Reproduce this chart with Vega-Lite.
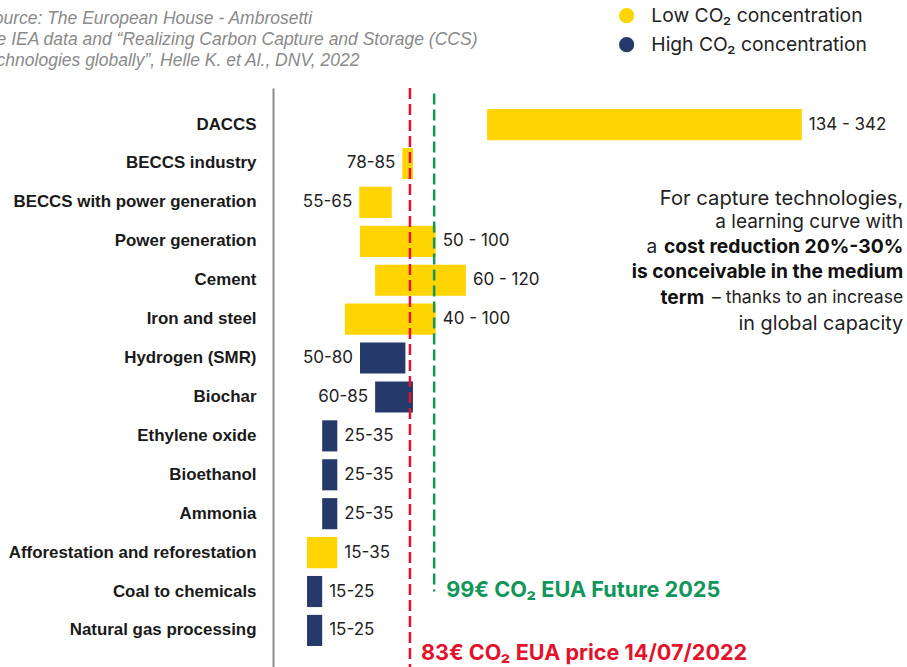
{
  "$schema": "https://vega.github.io/schema/vega-lite/v6.json",
  "autosize": "none",
  "width": 634,
  "height": 579,
  "padding": {"left": 273, "top": 88, "right": 0, "bottom": 0},
  "background": "white",
  "config": {
    "view": {"stroke": null},
    "font": "Inter",
    "text": {"font": "Inter"}
  },
  "title": {
    "text": [
      "Source: The European House - Ambrosetti",
      "the IEA data and “Realizing Carbon Capture and Storage (CCS)",
      "technologies globally”, Helle K. et Al., DNV, 2022"
    ],
    "anchor": "start",
    "orient": "top",
    "frame": "group",
    "font": "Liberation Sans",
    "fontStyle": "italic",
    "fontWeight": "normal",
    "fontSize": 17.5,
    "lineHeight": 21.3,
    "color": "#8a8a8a",
    "dx": -291,
    "dy": 84,
    "offset": 20
  },
  "data": {
    "values": [
      {"tech": "DACCS", "low": 134, "high": 342, "concentration": "Low CO₂ concentration", "label": "134 - 342"},
      {"tech": "BECCS industry", "low": 78, "high": 85, "concentration": "Low CO₂ concentration", "label": "78-85"},
      {"tech": "BECCS with power generation", "low": 49.5, "high": 71, "concentration": "Low CO₂ concentration", "label": "55-65"},
      {"tech": "Power generation", "low": 50, "high": 100, "concentration": "Low CO₂ concentration", "label": "50 - 100"},
      {"tech": "Cement", "low": 60, "high": 120, "concentration": "Low CO₂ concentration", "label": "60 - 120"},
      {"tech": "Iron and steel", "low": 40, "high": 100, "concentration": "Low CO₂ concentration", "label": "40 - 100"},
      {"tech": "Hydrogen (SMR)", "low": 50, "high": 80, "concentration": "High CO₂ concentration", "label": "50-80"},
      {"tech": "Biochar", "low": 60, "high": 85, "concentration": "High CO₂ concentration", "label": "60-85"},
      {"tech": "Ethylene oxide", "low": 25, "high": 35, "concentration": "High CO₂ concentration", "label": "25-35"},
      {"tech": "Bioethanol", "low": 25, "high": 35, "concentration": "High CO₂ concentration", "label": "25-35"},
      {"tech": "Ammonia", "low": 25, "high": 35, "concentration": "High CO₂ concentration", "label": "25-35"},
      {"tech": "Afforestation and reforestation", "low": 15, "high": 35, "concentration": "Low CO₂ concentration", "label": "15-35"},
      {"tech": "Coal to chemicals", "low": 15, "high": 25, "concentration": "High CO₂ concentration", "label": "15-25"},
      {"tech": "Natural gas processing", "low": 15, "high": 25, "concentration": "High CO₂ concentration", "label": "15-25"}
    ]
  },
  "encoding": {
    "y": {
      "field": "tech",
      "type": "nominal",
      "sort": null,
      "scale": {"paddingInner": 0.2, "paddingOuter": 0.54},
      "axis": {
        "title": null,
        "ticks": false,
        "grid": false,
        "domain": true,
        "domainColor": "#8c8c8c",
        "domainWidth": 2,
        "labelFont": "Liberation Sans",
        "labelFontWeight": "bold",
        "labelFontSize": 16.9,
        "labelColor": "#1a1a1a",
        "labelPadding": 17,
        "labelLimit": 400
      }
    }
  },
  "layer": [
    {
      "mark": {"type": "bar"},
      "encoding": {
        "x": {"field": "low", "type": "quantitative", "scale": {"domain": [-7.5, 411.5], "nice": false, "zero": false}, "axis": null},
        "x2": {"field": "high"},
        "color": {
          "field": "concentration",
          "type": "nominal",
          "scale": {"domain": ["Low CO₂ concentration", "High CO₂ concentration"], "range": ["#FFD400", "#253A6A"]},
          "legend": {
            "title": null,
            "orient": "none",
            "legendX": 344,
            "legendY": -82,
            "padding": 0,
            "symbolType": "circle",
            "symbolSize": 230,
            "symbolStrokeWidth": 0,
            "labelFont": "Inter",
            "labelFontSize": 19.3,
            "labelColor": "#222222",
            "labelOffset": 15,
            "rowPadding": 9,
            "labelLimit": 400
          }
        }
      }
    },
    {
      "transform": [{"filter": "indexof(['BECCS industry','BECCS with power generation','Hydrogen (SMR)','Biochar'], datum.tech) < 0"}],
      "mark": {"type": "text", "align": "left", "baseline": "middle", "dx": 7, "fontSize": 17, "color": "#222222", "font": "Inter"},
      "encoding": {
        "x": {"field": "high", "type": "quantitative"},
        "text": {"field": "label"}
      }
    },
    {
      "transform": [{"filter": "indexof(['BECCS industry','BECCS with power generation','Hydrogen (SMR)','Biochar'], datum.tech) >= 0"}],
      "mark": {"type": "text", "align": "right", "baseline": "middle", "dx": -7, "fontSize": 17, "color": "#222222", "font": "Inter"},
      "encoding": {
        "x": {"field": "low", "type": "quantitative"},
        "text": {"field": "label"}
      }
    },
    {
      "data": {"values": [{"price": 83}]},
      "mark": {"type": "rule", "color": "#E2142D", "strokeWidth": 2.5, "strokeDash": [11, 5]},
      "encoding": {
        "x": {"field": "price", "type": "quantitative"},
        "y": null
      }
    },
    {
      "data": {"values": [{"price": 99, "top": "DACCS", "bottom": "Coal to chemicals"}]},
      "mark": {"type": "rule", "color": "#12965C", "strokeWidth": 2.5, "strokeDash": [11, 5]},
      "encoding": {
        "x": {"field": "price", "type": "quantitative"},
        "y": {"field": "top", "type": "nominal", "bandPosition": -0.5},
        "y2": {"field": "bottom"}
      }
    },
    {
      "data": {"values": [{"price": 99, "row": "Coal to chemicals", "label": "99€ CO₂ EUA Future 2025"}]},
      "mark": {"type": "text", "align": "left", "baseline": "middle", "dx": 12, "dy": -2, "fontSize": 21.7, "fontWeight": "bold", "color": "#12965C", "font": "Inter"},
      "encoding": {
        "x": {"field": "price", "type": "quantitative"},
        "y": {"field": "row", "type": "nominal"},
        "text": {"field": "label"}
      }
    },
    {
      "data": {"values": [{"price": 83, "row": "Natural gas processing", "label": "83€ CO₂ EUA price 14/07/2022"}]},
      "mark": {"type": "text", "align": "left", "baseline": "middle", "dx": 11, "dy": 23.5, "fontSize": 21.6, "fontWeight": "bold", "color": "#E2142D", "font": "Inter"},
      "encoding": {
        "x": {"field": "price", "type": "quantitative"},
        "y": {"field": "row", "type": "nominal"},
        "text": {"field": "label"}
      }
    },
    {
      "data": {"values": [{}]},
      "mark": {"type": "text", "align": "right", "baseline": "middle", "fontSize": 20.2, "color": "#222222", "font": "Inter", "dy": -3, "text": "For capture technologies,"},
      "encoding": {"x": {"datum": 409}, "y": {"datum": "BECCS with power generation"}}
    },
    {
      "data": {"values": [{}]},
      "mark": {"type": "text", "align": "right", "baseline": "middle", "fontSize": 19, "color": "#222222", "font": "Inter", "dy": 20, "text": "a learning curve with"},
      "encoding": {"x": {"datum": 409}, "y": {"datum": "BECCS with power generation"}}
    },
    {
      "data": {"values": [{}]},
      "mark": {"type": "text", "align": "right", "baseline": "middle", "fontSize": 19.3, "fontWeight": "bold", "color": "#111111", "font": "Inter", "dy": 45, "text": "cost reduction 20%-30%"},
      "encoding": {"x": {"datum": 409}, "y": {"datum": "BECCS with power generation"}}
    },
    {
      "data": {"values": [{}]},
      "mark": {"type": "text", "align": "right", "baseline": "middle", "fontSize": 19, "color": "#222222", "font": "Inter", "dy": 45, "dx": -246, "text": "a"},
      "encoding": {"x": {"datum": 409}, "y": {"datum": "BECCS with power generation"}}
    },
    {
      "data": {"values": [{}]},
      "mark": {"type": "text", "align": "right", "baseline": "middle", "fontSize": 19.2, "fontWeight": "bold", "color": "#111111", "font": "Inter", "dy": 70, "text": "is conceivable in the medium"},
      "encoding": {"x": {"datum": 409}, "y": {"datum": "BECCS with power generation"}}
    },
    {
      "data": {"values": [{}]},
      "mark": {"type": "text", "align": "right", "baseline": "middle", "fontSize": 17.6, "color": "#222222", "font": "Inter", "dy": 96, "text": "– thanks to an increase"},
      "encoding": {"x": {"datum": 409}, "y": {"datum": "BECCS with power generation"}}
    },
    {
      "data": {"values": [{}]},
      "mark": {"type": "text", "align": "right", "baseline": "middle", "fontSize": 19.2, "fontWeight": "bold", "color": "#111111", "font": "Inter", "dy": 96, "dx": -199, "text": "term"},
      "encoding": {"x": {"datum": 409}, "y": {"datum": "BECCS with power generation"}}
    },
    {
      "data": {"values": [{}]},
      "mark": {"type": "text", "align": "right", "baseline": "middle", "fontSize": 19.8, "color": "#222222", "font": "Inter", "dy": 122, "text": "in global capacity"},
      "encoding": {"x": {"datum": 409}, "y": {"datum": "BECCS with power generation"}}
    }
  ]
}
